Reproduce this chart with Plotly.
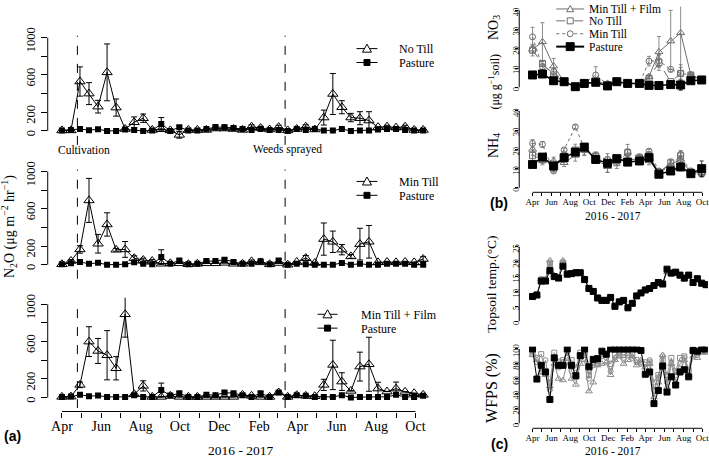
import plotly.graph_objects as go
from datetime import date

# ---------------- data ----------------
n2o_dates = ["2016-04-01","2016-04-15","2016-04-29","2016-05-13","2016-05-27","2016-06-10","2016-06-24",
             "2016-07-08","2016-07-22","2016-08-05","2016-08-19","2016-09-02","2016-09-16","2016-09-30",
             "2016-10-14","2016-10-28","2016-11-11","2016-11-25","2016-12-09","2016-12-23","2017-01-06",
             "2017-01-20","2017-02-03","2017-02-17","2017-03-03","2017-03-17","2017-03-31","2017-04-14",
             "2017-04-28","2017-05-12","2017-05-26","2017-06-09","2017-06-23","2017-07-07","2017-07-21",
             "2017-08-04","2017-08-18","2017-09-01","2017-09-15","2017-09-29","2017-10-13"]

no_till = [5, 5, 530, 400, 260, 628, 250, 20, 93, 136, 10, 18, 5, -43, 10, 10, 10, 25, 25, 20, 10,
           45, 30, 15, 40, 5, 20, 45, 15, 143, 396, 254, 143, 136, 111, 40, 45, 35, 45, 10, 10]
no_till_err = [0, 0, 157, 118, 68, 305, 92, 0, 57, 45, 0, 0, 0, 35, 0, 0, 0, 15, 15, 10, 0,
               20, 20, 0, 20, 0, 0, 20, 0, 80, 220, 70, 45, 70, 95, 0, 15, 0, 15, 0, 0]
pasture_1 = [5, 10, 20, 7, 18, 0, 0, 15, 10, 0, 5, 75, 0, 40, 5, 5, 20, 40, 40, 30, 20,
             10, 20, 10, 10, 0, 20, 10, 20, 5, 5, 20, 0, 5, 5, 15, 20, 20, 10, 5, 5]
pasture_1_err = [0, 0, 0, 0, 0, 0, 0, 0, 0, 0, 0, 68, 0, 15, 0, 0, 0, 25, 20, 15, 10,
                 10, 15, 0, 0, 0, 0, 0, 0, 0, 0, 0, 0, 0, 0, 0, 0, 0, 0, 0, 0]

min_till = [5, 40, 164, 690, 225, 432, 160, 164, 70, 50, 40, 10, 15, 15, 5, 10, 15, 15, 20, 10, 10,
            36, 25, 5, 18, 0, 29, 71, 18, 275, 246, 161, 89, 221, 246, 25, 29, 25, 29, 25, 61]
min_till_err = [0, 15, 40, 236, 100, 125, 15, 85, 25, 20, 15, 0, 0, 0, 0, 0, 0, 0, 0, 0, 0,
                15, 15, 0, 0, 0, 0, 27, 0, 173, 115, 55, 20, 170, 175, 0, 0, 0, 0, 0, 25]
pasture_2 = [5, 15, 30, 10, 20, 0, 0, 5, 25, 10, 5, 82, 10, 46, 5, 10, 39, 39, 54, 29, 10,
             10, 36, 5, 46, 0, 10, 5, 0, 0, 0, 18, 0, 10, 0, 0, 10, 10, 10, 0, 0]
pasture_2_err = [0, 0, 0, 0, 0, 0, 0, 0, 0, 0, 0, 78, 0, 15, 0, 0, 10, 0, 15, 15, 0,
                 0, 15, 0, 15, 0, 0, 0, 0, 0, 0, 0, 0, 0, 0, 0, 0, 0, 0, 0, 0]

min_till_film = [7, 10, 136, 600, 500, 454, 314, 893, 36, 125, 7, 7, 18, 7, 7, 7, 7, 7, 7, 7, 29,
                 18, 7, 7, 54, 7, 25, 18, 14, 136, 350, 171, 71, 332, 357, 96, 64, 96, 61, 46, 29]
min_till_film_err = [0, 0, 30, 160, 134, 264, 125, 245, 0, 55, 0, 0, 0, 0, 0, 0, 0, 0, 0, 0, 0,
                     0, 0, 0, 15, 0, 0, 0, 0, 60, 265, 95, 0, 155, 290, 68, 0, 70, 0, 0, 0]
pasture_3 = [7, 10, 29, 14, 21, 7, 7, 7, 25, 7, 7, 82, 21, 46, 7, 7, 29, 25, 54, 46, 25,
             7, 46, 7, 54, 7, 25, 18, 7, 7, 7, 25, 0, 7, 7, 7, 7, 29, 7, 7, 18]
pasture_3_err = [0, 0, 0, 0, 0, 0, 0, 0, 0, 0, 0, 73, 0, 15, 0, 0, 0, 0, 15, 10, 0,
                 0, 15, 0, 10, 0, 0, 0, 0, 0, 0, 0, 0, 0, 0, 0, 0, 0, 0, 0, 0]

cultivation_date = "2016-04-25"
weeds_date = "2017-03-13"

soil_dates = ["2016-04-01","2016-05-03","2016-06-08","2016-07-12","2016-08-17","2016-09-15","2016-10-22",
              "2016-11-29","2016-12-29","2017-02-02","2017-03-12","2017-04-12","2017-05-14","2017-06-21",
              "2017-07-23","2017-08-25","2017-09-29"]
no3_mtf = [19.8, 23.6, 11, 2.9, 0.3, 2, 2.6, 2, 2.9, 2, 2, 5.5, 18.4, 24, 28.3, 6.4, 3.8]
no3_mtf_err = [2, 10, 4, 0, 0, 0, 0, 0, 0, 0, 0, 1, 8, 16, 30, 1, 0]
no3_nt = [19.3, 12.4, 6.4, 2.9, 0.3, 2, 2.6, 1.2, 2.9, 2, 2, 4.7, 12.8, 2.9, 7.2, 6.4, 3.8]
no3_nt_err = [3, 1, 0, 0, 0, 0, 0, 0, 0, 0, 0, 1, 4, 0, 3, 0, 0]
no3_mt = [26.2, 10.7, 8.1, 2.9, 0.3, 2, 6.4, 1.5, 2.9, 2, 2, 13.6, 13.8, 9.3, 7.2, 6.4, 3.8]
no3_mt_err = [5, 1.5, 1.5, 0, 0, 0, 4.3, 0, 0, 0, 0, 2.5, 3, 0, 4.5, 0, 0]
no3_past = [6.4, 6.9, 3.4, 2.9, 0.3, 2, 2.6, 0.7, 2.9, 2, 2, 1, 0.9, 1.4, 1.2, 3.4, 3.8]
no3_past_err = [0, 0, 0, 0, 0, 0, 0, 0, 0, 0, 0, 0, 0, 0, 2.5, 0, 0]

nh4_mtf = [20, 14, 14, 13.1, 16.9, 20, 14.8, 11, 14.8, 14.8, 14.8, 14, 8.3, 12.2, 14.8, 7.9, 7.9]
nh4_mtf_err = [3, 2, 2, 2, 3, 3, 2, 3, 2, 2, 2, 2, 1, 2, 2, 2, 1]
nh4_nt = [16.9, 14.8, 10.5, 16.6, 19.7, 20, 16.6, 12.2, 13.1, 18.3, 15.7, 16.9, 7.9, 13.1, 16.6, 8.3, 7.9]
nh4_nt_err = [3, 2, 2, 2, 3, 3, 2, 4, 3, 2, 2, 2, 1, 2, 2, 2, 2]
nh4_mt = [23.1, 22.6, 8.8, 19.7, 31.7, 20.9, 16.6, 14.8, 14, 18.6, 16, 19.1, 8.8, 10.5, 17.4, 7.9, 7]
nh4_mt_err = [2, 1.5, 1, 1, 1, 2, 2, 3, 2, 4, 1, 1, 1, 2, 2, 2, 1]
nh4_past = [12.2, 16, 11.4, 15.7, 18.6, 21.2, 14.8, 12.8, 15.2, 13.4, 14, 15.7, 7.1, 8.8, 10.9, 7.4, 10]
nh4_past_err = [1, 1, 1, 1, 1, 1, 1, 1, 1, 1, 1, 1, 1, 1, 2, 1, 4]

temp_past = [8.3, 8.8, 13.5, 13.5, 17, 15, 14.5, 18.5, 15.8, 16, 16.3, 16.3, 14, 11, 10, 7.8, 7, 7, 8, 5,
             6.5, 7, 4.5, 6, 8.5, 9.5, 10.5, 11, 12, 13, 12.5, 17.5, 16.2, 16.5, 15.5, 14.5, 15.5, 13,
             14.3, 12.8, 12.3]
temp_mtf = [8.3, 8.8, 14.2, 14.2, 20.5, 15.5, 14.8, 20.5, 16.2, 16.2, 16.5, 16.5, 14.3, 11.2, 10.2, 7.8,
            7.2, 7.2, 8.1, 5.3, 6.8, 7.1, 4.8, 6.2, 8.6, 9.6, 10.6, 11.2, 12.2, 13.2, 12.8, 16.5, 15.8,
            16.2, 15.2, 14.2, 15.2, 12.8, 14, 12.5, 12]
temp_nt = [8.5, 9, 14, 14, 19, 15.2, 14.6, 19.5, 16, 16.1, 16.4, 16.4, 14.2, 11, 10.1, 7.9, 7.1, 7.1, 8,
           5.1, 6.6, 7, 4.6, 6.1, 8.5, 9.5, 10.5, 11.1, 12.1, 13.1, 12.6, 16.8, 16, 16.3, 15.3, 14.3,
           15.3, 12.9, 14.1, 12.6, 12.1]
temp_mt = [8.4, 8.9, 14.1, 13.8, 19.8, 15.3, 14.7, 20, 16.1, 16.1, 16.4, 16.3, 14.1, 11.1, 10.1, 7.8,
           7.1, 7.1, 8, 5.2, 6.7, 7, 4.7, 6.1, 8.5, 9.5, 10.5, 11.1, 12.1, 13.1, 12.7, 16.6, 15.9, 16.3,
           15.3, 14.3, 15.3, 12.9, 14, 12.6, 12.1]

wfps_past = [100, 59.5, 78, 69, 32, 88, 78, 78, 100, 78, 64, 91, 100, 76, 86, 87, 97, 93, 100, 100,
             100, 100, 100, 100, 100, 98, 66, 69, 26.5, 44, 77, 42, 62.5, 51.5, 69, 72, 62.5, 98, 97,
             100, 100]
wfps_mtf = [92, 85, 68, 65, 50, 80, 60, 58, 82, 60, 52, 80, 85, 43, 55, 78, 80, 82, 65, 85, 90, 80,
            85, 90, 78, 85, 75, 80, 35, 55, 92, 48, 80, 55, 70, 85, 65, 90, 88, 95, 95]
wfps_nt = [93, 88, 93, 70, 55, 95, 83, 85, 88, 85, 75, 95, 92, 65, 82, 80, 95, 92, 80, 92, 95, 92,
           95, 93, 85, 82, 82, 82, 55, 65, 85, 65, 88, 70, 88, 90, 72, 100, 95, 100, 97]
wfps_mt = [95, 82, 70, 85, 45, 85, 75, 82, 95, 70, 62, 88, 95, 60, 78, 80, 90, 88, 70, 88, 92, 88,
           92, 88, 82, 80, 76, 85, 45, 62, 90, 55, 82, 65, 80, 88, 70, 95, 92, 97, 98]

month_ticks = ["2016-04-01","2016-05-01","2016-06-01","2016-07-01","2016-08-01","2016-09-01","2016-10-01",
               "2016-11-01","2016-12-01","2017-01-01","2017-02-01","2017-03-01","2017-04-01","2017-05-01",
               "2017-06-01","2017-07-01","2017-08-01","2017-09-01","2017-10-01"]
label_ticks = ["2016-04-01","2016-06-01","2016-08-01","2016-10-01","2016-12-01","2017-02-01",
               "2017-04-01","2017-06-01","2017-08-01","2017-10-01"]
label_text = ["Apr","Jun","Aug","Oct","Dec","Feb","Apr","Jun","Aug","Oct"]
n2o_ticks = [0, 200, 400, 600, 800, 1000]
n2o_labels = [0, 200, 600, 1000]
year_label = "2016 - 2017"

# ---------------- layout helpers ----------------
W, H = 709, 458
SERIF = "Liberation Serif, Times New Roman, serif"
SANS = "Liberation Sans, Arial, sans-serif"
GREY = "#6e6e6e"
LGREY = "#8c8c8c"


def d(s):
    return date.fromisoformat(s)


def fx(px):
    return px / W


def fy(py):
    return 1 - py / H


def x_domain(rng, p_first, p_last):
    span = (d(month_ticks[-1]) - d(month_ticks[0])).days
    ppd = (p_last - p_first) / span
    left = p_first - (d(month_ticks[0]) - d(rng[0])).days * ppd
    right = p_last + (d(rng[1]) - d(month_ticks[-1])).days * ppd
    return [fx(left), fx(right)]


def y_domain(rng, p_zero, ppu):
    bottom = p_zero - rng[0] * ppu
    top = p_zero - rng[1] * ppu
    return [fy(bottom), fy(top)]


fig = go.Figure()

# ---------------- panel (a) ----------------
a_series = [
    ("y", "No Till", no_till, no_till_err, pasture_1, pasture_1_err),
    ("y2", "Min Till", min_till, min_till_err, pasture_2, pasture_2_err),
    ("y3", "Min Till + Film", min_till_film, min_till_film_err, pasture_3, pasture_3_err),
]
for yax, name, vals, errs, pv, pe in a_series:
    fig.add_trace(go.Scatter(
        x=n2o_dates, y=vals, name=name, mode="lines+markers", xaxis="x", yaxis=yax,
        line=dict(color="black", width=1),
        marker=dict(symbol="triangle-up-open", size=9, color="black", line=dict(width=1)),
        error_y=dict(type="data", array=errs, color="black", thickness=1, width=3)))
    fig.add_trace(go.Scatter(
        x=n2o_dates, y=pv, name="Pasture", mode="lines+markers", xaxis="x", yaxis=yax,
        line=dict(color="black", width=1),
        marker=dict(symbol="square", size=6, color="black"),
        error_y=dict(type="data", array=pe, color="black", thickness=1, width=3)))

# ---------------- panel (b) ----------------
b_specs = [
    ("Min Till + Film", no3_mtf, no3_mtf_err, nh4_mtf, nh4_mtf_err, "solid", "triangle-up-open", GREY, 7, 1),
    ("No Till", no3_nt, no3_nt_err, nh4_nt, nh4_nt_err, "dash", "square-open", GREY, 6, 1),
    ("Min Till", no3_mt, no3_mt_err, nh4_mt, nh4_mt_err, "dot", "circle-open", GREY, 6, 1),
    ("Pasture", no3_past, no3_past_err, nh4_past, nh4_past_err, "solid", "square", "black", 8, 1.5),
]
for name, n3, n3e, n4, n4e, dash, sym, col, sz, lw in b_specs:
    for yax, vals, errs in (("y4", n3, n3e), ("y5", n4, n4e)):
        fig.add_trace(go.Scatter(
            x=soil_dates, y=vals, name=name, mode="lines+markers", xaxis="x2", yaxis=yax,
            line=dict(color=col, width=lw, dash=dash),
            marker=dict(symbol=sym, size=sz, color=col, line=dict(width=1, color=col)),
            error_y=dict(type="data", array=errs, color=col, thickness=0.8, width=2)))

# ---------------- panel (c) ----------------
c_specs = [
    ("Min Till + Film", temp_mtf, wfps_mtf, "triangle-up-open", LGREY, 6),
    ("No Till", temp_nt, wfps_nt, "square-open", LGREY, 5),
    ("Min Till", temp_mt, wfps_mt, "circle-open", LGREY, 5),
    ("Pasture", temp_past, wfps_past, "square", "black", 6),
]
for name, tv, wv, sym, col, sz in c_specs:
    for yax, vals in (("y6", tv), ("y7", wv)):
        fig.add_trace(go.Scatter(
            x=n2o_dates, y=vals, name=name, mode="lines+markers", xaxis="x3", yaxis=yax,
            line=dict(color=col, width=1),
            marker=dict(symbol=sym, size=sz, color=col, line=dict(width=1, color=col))))

# ---------------- axes ----------------
xr_a = ["2016-03-10", "2017-10-25"]
xr_b = ["2016-02-18", "2017-10-19"]


def xaxis_cfg(rng, p_first, p_last, anchor, size, ticklen, standoff):
    return dict(type="date", domain=x_domain(rng, p_first, p_last), range=rng, anchor=anchor,
                tickvals=label_ticks, ticktext=label_text, ticks="outside", ticklen=ticklen,
                tickcolor="black", tickfont=dict(size=size, family=SERIF), ticklabelstandoff=standoff,
                ticklabeloverflow="allow", showline=False, showgrid=False, zeroline=False,
                minor=dict(tickvals=month_ticks, ticks="outside", ticklen=ticklen, tickcolor="black",
                           showgrid=False))


def yaxis_cfg(rng, p_zero, ppu, anchor, tickvals, labels, size, ticklen, standoff, shift, minor=None):
    cfg = dict(domain=y_domain(rng, p_zero, ppu), range=rng, anchor=anchor, tickvals=labels,
               ticks="outside", ticklen=ticklen, tickcolor="black", tickangle=-90,
               tickfont=dict(size=size, family=SERIF), ticklabelstandoff=standoff, ticklabelshift=shift,
               showgrid=False, zeroline=False, showline=False)
    if minor:
        cfg["minor"] = dict(tickvals=tickvals, ticks="outside", ticklen=ticklen, tickcolor="black",
                            showgrid=False)
    return cfg


a_range = [-150, 1070]
a_ppu = 0.094
b_ppu = 1.94

fig.update_layout(
    width=W, height=H, margin=dict(l=0, r=0, t=0, b=0),
    paper_bgcolor="white", plot_bgcolor="white", showlegend=False,
    font=dict(family=SERIF, color="black"),
    xaxis=xaxis_cfg(xr_a, 62, 416, "y3", 14, 5, -3),
    xaxis2=xaxis_cfg(xr_b, 533.3, 703.3, "y5", 9, 3, -2),
    xaxis3=xaxis_cfg(xr_b, 533.3, 703.3, "y7", 9, 3, -2),
    yaxis=yaxis_cfg(a_range, 128, a_ppu, "x", n2o_ticks, n2o_labels, 12.5, 6, 1, 4, minor=True),
    yaxis2=yaxis_cfg(a_range, 263, a_ppu, "x", n2o_ticks, n2o_labels, 12.5, 6, 1, 4, minor=True),
    yaxis3=yaxis_cfg(a_range, 397, a_ppu, "x", n2o_ticks, n2o_labels, 12.5, 6, 1, 4, minor=True),
    yaxis4=yaxis_cfg([-3, 42], 84, b_ppu, "x2", None, [0, 10, 20, 30, 40], 8.5, 3, -7, 3),
    yaxis5=yaxis_cfg([-2.3, 42], 185.5, b_ppu, "x2", None, [0, 10, 20, 30, 40], 8.5, 3, -7, 3),
    yaxis6=yaxis_cfg([-1.5, 26], 320, 3.0, "x3", None, [0, 5, 10, 15, 20, 25], 8.5, 3, -7, 3),
    yaxis7=yaxis_cfg([-6.7, 103], 423, 0.75, "x3", None, [0, 20, 40, 60, 80, 100], 8.5, 3, -7, 3),
)

# axis lines (R style: only over the tick range)
shapes = []
for yax in ("y", "y2", "y3"):
    shapes.append(dict(type="line", xref="x domain", x0=0, x1=0, yref=yax, y0=n2o_ticks[0], y1=n2o_ticks[-1],
                       line=dict(color="black", width=1)))
shapes.append(dict(type="line", xref="x", x0=month_ticks[0], x1=month_ticks[-1], yref="y3 domain",
                   y0=0, y1=0, line=dict(color="black", width=1)))
for xax, yax, top in (("x2", "y4", 40), ("x2", "y5", 40), ("x3", "y6", 25), ("x3", "y7", 100)):
    shapes.append(dict(type="line", xref=xax + " domain", x0=0, x1=0, yref=yax, y0=0, y1=top,
                       line=dict(color="black", width=1)))
for xax, yax in (("x2", "y5"), ("x3", "y7")):
    shapes.append(dict(type="line", xref=xax, x0=month_ticks[0], x1=month_ticks[-1],
                       yref=yax + " domain", y0=0, y1=0, line=dict(color="black", width=1)))
# event lines
for yax, y0 in (("y", 0.0), ("y2", 0.0), ("y3", 0.03)):
    for ev in (cultivation_date, weeds_date):
        shapes.append(dict(type="line", xref="x", x0=ev, x1=ev, yref=yax + " domain", y0=y0, y1=0.96,
                           line=dict(color="black", width=1, dash="dash")))

ann = []


def txt(x, y, s, size=14, angle=0, family=SERIF, bold=False, xanchor="center", height=None):
    if bold:
        s = "<b>" + s + "</b>"
    a = dict(x=fx(x), y=fy(y), xref="paper", yref="paper", text=s, showarrow=False,
             textangle=angle, font=dict(size=size, family=family, color="black"),
             xanchor=xanchor, yanchor="middle")
    if height:
        a["height"] = height
    ann.append(a)


# ---------------- legends (R style keys) ----------------
def legend_key(x0, x1, y, label, tx, symbol, color="black", dash="solid", lw=1, ms=8, size=12, rowh=13):
    shapes.append(dict(type="line", xref="paper", yref="paper", x0=fx(x0), x1=fx(x1), y0=fy(y), y1=fy(y),
                       line=dict(color=color, width=lw, dash=dash)))
    xc = (x0 + x1) / 2
    h = ms / 2
    if symbol == "triangle":
        path = "M {:.5f},{:.5f} L {:.5f},{:.5f} L {:.5f},{:.5f} Z".format(
            fx(xc - h), fy(y + h * 0.8), fx(xc + h), fy(y + h * 0.8), fx(xc), fy(y - h * 1.0))
        shapes.append(dict(type="path", xref="paper", yref="paper", path=path, fillcolor="white",
                           line=dict(color=color, width=1)))
    else:
        shapes.append(dict(type="circle" if symbol == "circle-open" else "rect", xref="paper", yref="paper",
                           x0=fx(xc - h), x1=fx(xc + h), y0=fy(y + h), y1=fy(y - h),
                           fillcolor=color if symbol == "square" else "white",
                           line=dict(color=color, width=1)))
    txt(tx, y, label, size, xanchor="left", height=rowh)


legend_key(357, 378, 45, "No Till", 398, "triangle", ms=9)
legend_key(357, 378, 59, "Pasture", 398, "square", ms=6)
legend_key(357, 378, 179, "Min Till", 398, "triangle", ms=9)
legend_key(357, 378, 193, "Pasture", 398, "square", ms=6)
legend_key(318, 338, 313, "Min Till + Film", 360, "triangle", ms=9)
legend_key(318, 338, 327, "Pasture", 360, "square", ms=6)
legend_key(557, 585, 5, "Min Till + Film", 588, "triangle", color=GREY, ms=7, size=11.5, rowh=12)
legend_key(557, 585, 17, "No Till", 588, "square-open", color=GREY, dash="dash", ms=6, size=11.5, rowh=12)
legend_key(557, 585, 30, "Min Till", 588, "circle-open", color=GREY, dash="dot", ms=6, size=11.5, rowh=12)
legend_key(557, 585, 43, "Pasture", 588, "square", color="black", lw=2, ms=8, size=11.5, rowh=12)

# ---------------- texts ----------------
txt(84, 147, "Cultivation", 11.5)
txt(288, 147, "Weeds sprayed", 11.5)
txt(9, 224, "N<sub>2</sub>O (μg m<sup>−2</sup> hr<sup>−1</sup>)", 14, -90)
txt(241, 450, year_label, 13.5)
txt(13, 436, "(a)", 14, family=SANS, bold=True)
txt(495, 24, "NO<sub>3</sub>", 14, -90)
txt(495, 78, "(μg g<sup>−1</sup>soil)", 12, -90)
txt(495, 143, "NH<sub>4</sub>", 14, -90)
txt(614, 214, year_label, 11.5)
txt(500, 201, "(b)", 14, family=SANS, bold=True)
txt(492, 283, "Topsoil temp.(°C)", 13.5, -90)
txt(492, 387, "WFPS (%)", 16, -90)
txt(614, 451, year_label, 11.5)
txt(500, 444, "(c)", 14, family=SANS, bold=True)

fig.update_layout(shapes=shapes, annotations=ann)

fig.write_html("out.html", config={"displayModeBar": False},
               post_script="document.body.style.margin='0px';document.body.style.overflow='hidden';")
